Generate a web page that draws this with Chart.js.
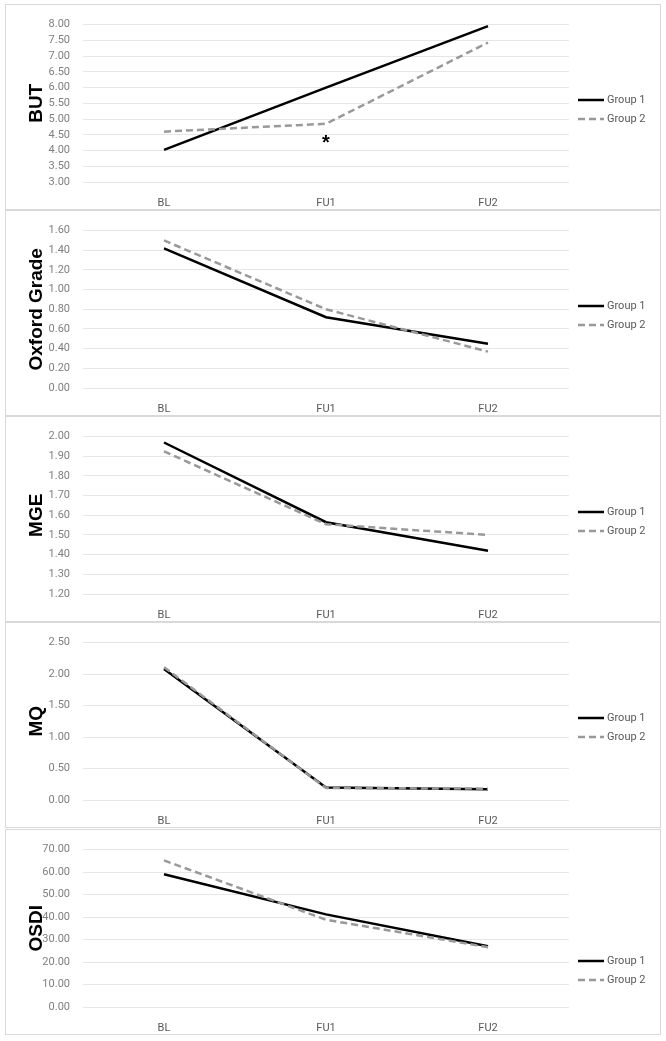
<!DOCTYPE html>
<html>
<head>
<meta charset="utf-8">
<script src="https://cdn.jsdelivr.net/npm/chart.js@4"></script>
<style>
  body { margin: 0; background: #fff; width: 666px; height: 1041px; position: relative; }
  .panel { position: absolute; left: 5px; width: 654px; height: 204px; border: 1px solid #d9d9d9; }
  .panel canvas { display: block; }
</style>
</head>
<body>
<div class="panel" style="top:4px"><canvas id="butChart" width="654" height="204"></canvas></div>
<div class="panel" style="top:210px"><canvas id="oxfordChart" width="654" height="204"></canvas></div>
<div class="panel" style="top:416px"><canvas id="mgeChart" width="654" height="204"></canvas></div>
<div class="panel" style="top:622px"><canvas id="mqChart" width="654" height="204"></canvas></div>
<div class="panel" style="top:829px"><canvas id="osdiChart" width="654" height="204"></canvas></div>
<script>
// visits
const stages = ["BL", "FU1", "FU2"];
const groupNames = ["Group 1", "Group 2"];

// values
const butGroup1 = [4.02, 6.0, 7.95];
const butGroup2 = [4.6, 4.85, 7.43];
const oxfordGroup1 = [1.42, 0.72, 0.45];
const oxfordGroup2 = [1.5, 0.8, 0.37];
const mgeGroup1 = [1.97, 1.565, 1.42];
const mgeGroup2 = [1.925, 1.555, 1.5];
const mqGroup1 = [2.08, 0.2, 0.17];
const mqGroup2 = [2.11, 0.19, 0.18];
const osdiGroup1 = [59.0, 41.2, 27.0];
const osdiGroup2 = [65.2, 38.8, 26.6];

// y axis ranges: [min, max, step]
const butRange = [3, 8, 0.5];
const oxfordRange = [0, 1.6, 0.2];
const mgeRange = [1.2, 2.0, 0.1];
const mqRange = [0, 2.5, 0.5];
const osdiRange = [0, 70, 10];

const tickFont = { family: "Roboto, 'Liberation Sans', sans-serif", size: 11 };

// legend drawn to the right of the plot, like the Excel original
function sideLegend(rows) {
  return {
    id: "sideLegend",
    afterDraw(chart) {
      const ctx = chart.ctx;
      chart.data.datasets.forEach((ds, i) => {
        const y = rows[i];
        ctx.save();
        ctx.strokeStyle = ds.borderColor;
        ctx.lineWidth = ds.borderWidth;
        ctx.setLineDash(ds.borderDash || []);
        ctx.beginPath();
        ctx.moveTo(572, y);
        ctx.lineTo(598, y);
        ctx.stroke();
        ctx.setLineDash([]);
        ctx.fillStyle = "#595959";
        ctx.font = "11px Roboto, 'Liberation Sans', sans-serif";
        ctx.textBaseline = "middle";
        ctx.fillText(ds.label, 601, y);
        ctx.restore();
      });
    },
  };
}

// asterisk under Group 2 at FU1 in the BUT panel
const starMark = {
  id: "starMark",
  afterDatasetsDraw(chart) {
    const x = chart.scales.x.getPixelForValue(1);
    const y = chart.scales.y.getPixelForValue(butGroup2[1]);
    const ctx = chart.ctx;
    ctx.save();
    ctx.fillStyle = "#000";
    ctx.font = "bold 20px 'Liberation Sans', sans-serif";
    ctx.textAlign = "center";
    ctx.textBaseline = "middle";
    ctx.fillText("*", x, y + 20);
    ctx.restore();
  },
};

function makePanel(id, title, g1, g2, range, legendRows, extra = []) {
  const ctx = document.getElementById(id).getContext("2d");
  return new Chart(ctx, {
    type: "line",
    data: {
      labels: stages,
      datasets: [
        {
          label: groupNames[0],
          data: g1,
          borderColor: "#000000",
          borderWidth: 2.5,
          pointRadius: 0,
          fill: false,
          order: 1,
        },
        {
          label: groupNames[1],
          data: g2,
          borderColor: "#999999",
          borderWidth: 2.5,
          borderDash: [7, 4],
          pointRadius: 0,
          fill: false,
          order: 0,
        },
      ],
    },
    options: {
      responsive: false,
      animation: false,
      layout: { padding: { top: 13, right: 91, left: 0, bottom: 0 } },
      plugins: { legend: { display: false }, tooltip: { enabled: false } },
      scales: {
        x: {
          offset: true,
          grid: { display: false },
          border: { display: false },
          ticks: { color: "#595959", font: tickFont, padding: 7 },
          afterFit: (s) => { s.height = 27; },
        },
        y: {
          min: range[0],
          max: range[1],
          grid: { color: "#e6e6e6", drawTicks: false },
          border: { display: false },
          ticks: {
            stepSize: range[2],
            autoSkip: false,
            color: "#7f7f7f",
            font: tickFont,
            padding: 13,
            callback: (v) => v.toFixed(2),
          },
          title: {
            display: true,
            text: title,
            color: "#000",
            font: { family: "'Liberation Sans', sans-serif", weight: "bold", size: 19 },
            padding: { top: 19, bottom: 0 },
          },
          afterFit: (s) => { s.width = 77; },
        },
      },
    },
    plugins: [sideLegend(legendRows), ...extra],
  });
}

makePanel("butChart", "BUT", butGroup1, butGroup2, butRange, [95, 114], [starMark]);
makePanel("oxfordChart", "Oxford Grade", oxfordGroup1, oxfordGroup2, oxfordRange, [95, 114]);
makePanel("mgeChart", "MGE", mgeGroup1, mgeGroup2, mgeRange, [95, 114]);
makePanel("mqChart", "MQ", mqGroup1, mqGroup2, mqRange, [95, 114]);
makePanel("osdiChart", "OSDI", osdiGroup1, osdiGroup2, osdiRange, [131, 150]);
</script>
</body>
</html>
